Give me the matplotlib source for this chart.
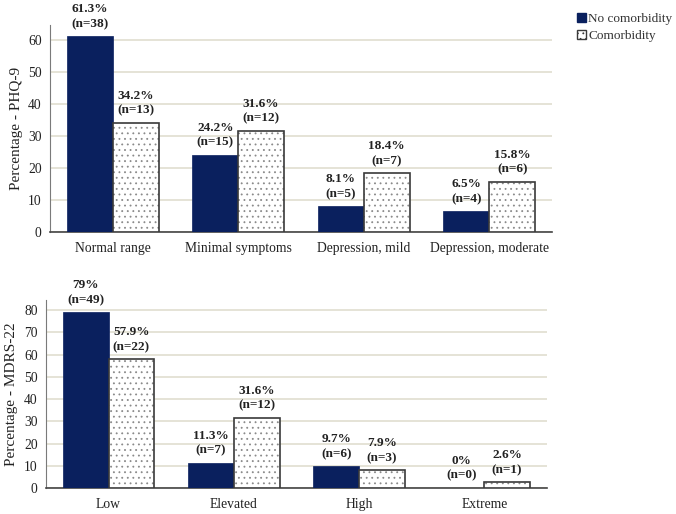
import matplotlib
matplotlib.use("Agg")
import matplotlib.pyplot as plt
from matplotlib.patches import Patch
import numpy as np

plt.rcParams['font.family'] = ['Liberation Serif', 'DejaVu Serif']
plt.rcParams['hatch.linewidth'] = 0.6

phq_cats = ["Normal range", "Minimal symptoms", "Depression, mild", "Depression, moderate"]
phq_none = [61.3, 24.2, 8.1, 6.5]
phq_none_n = [38, 15, 5, 4]
phq_com = [34.2, 31.6, 18.4, 15.8]
phq_com_n = [13, 12, 7, 6]

mdrs_cats = ["Low", "Elevated", "High", "Extreme"]
mdrs_none = [79, 11.3, 9.7, 0]
mdrs_none_n = [49, 7, 6, 0]
mdrs_com = [57.9, 31.6, 7.9, 2.6]
mdrs_com_n = [22, 12, 3, 1]

series_names = ["No comorbidity", "Comorbidity"]

NAVY = "#0a205e"
EDGE = "#3a3a3a"
GRID = "#dedbcc"

fig = plt.figure(figsize=(6.76, 5.14), dpi=100)
ax1 = fig.add_axes([0.074, 0.5486, 0.7426, 0.4024])
ax2 = fig.add_axes([0.068, 0.0506, 0.741, 0.3657])

def fmt(v):
    s = ("%.1f" % v).rstrip('0').rstrip('.')
    return s

def draw(ax, cats, none, none_n, com, com_n, ymax, yticks, ylabel):
    x = np.arange(len(cats))
    w = 0.365
    ax.bar(x - w/2, none, w, color=NAVY, edgecolor=NAVY, linewidth=0.5, zorder=3)
    ax.bar(x + w/2, com, w, color="white", edgecolor="#8a8a8a", hatch="...", linewidth=0, zorder=3)
    ax.bar(x + w/2, com, w, fill=False, edgecolor=EDGE, linewidth=1.2, zorder=4)
    for xi, v, n in zip(x - w/2, none, none_n):
        ax.annotate("%s%%\n(n=%d)" % (fmt(v), n), (xi, v), xytext=(0, 4.5), textcoords="offset points",
                    ha="center", va="bottom", fontsize=9.5, fontweight="bold", color="#222222",
                    linespacing=1.3)
    for xi, v, n in zip(x + w/2, com, com_n):
        ax.annotate("%s%%\n(n=%d)" % (fmt(v), n), (xi, v), xytext=(0, 4.5), textcoords="offset points",
                    ha="center", va="bottom", fontsize=9.5, fontweight="bold", color="#222222",
                    linespacing=1.3)
    ax.set_xlim(-0.5, len(cats) - 0.5)
    ax.set_ylim(0, ymax)
    ax.set_yticks(yticks)
    ax.set_xticks(x)
    ax.set_xticklabels(cats, fontsize=9.5, color="#222222")
    ax.tick_params(axis="both", length=0, labelsize=9.8, colors="#222222")
    ax.tick_params(axis="x", pad=7)
    ax.tick_params(axis="y", pad=6)
    ax.yaxis.grid(True, color=GRID, linewidth=1.1, zorder=0)
    ax.set_axisbelow(True)
    for s in ["top", "right"]:
        ax.spines[s].set_visible(False)
    ax.spines["left"].set_color("#7a7a7a")
    ax.spines["bottom"].set_color("#444444")
    ax.spines["bottom"].set_linewidth(1.2)
    ax.set_ylabel(ylabel, fontsize=11, color="#222222", labelpad=4)

draw(ax1, phq_cats, phq_none, phq_none_n, phq_com, phq_com_n, 64.7, [0, 10, 20, 30, 40, 50, 60], "Percentage - PHQ-9")
draw(ax2, mdrs_cats, mdrs_none, mdrs_none_n, mdrs_com, mdrs_com_n, 84.5, [0, 10, 20, 30, 40, 50, 60, 70, 80], "Percentage - MDRS-22")

handles = [Patch(facecolor=NAVY, edgecolor=NAVY, label=series_names[0]),
           Patch(facecolor="white", edgecolor=EDGE, hatch="...", label=series_names[1])]
fig.legend(handles=handles, loc="upper left", bbox_to_anchor=(0.846, 0.985), frameon=False,
           fontsize=9.5, handlelength=0.7, handleheight=0.7, handletextpad=0.15,
           borderaxespad=0, labelspacing=0.35, labelcolor="#333333")

fig.savefig("out.png", dpi=100)
